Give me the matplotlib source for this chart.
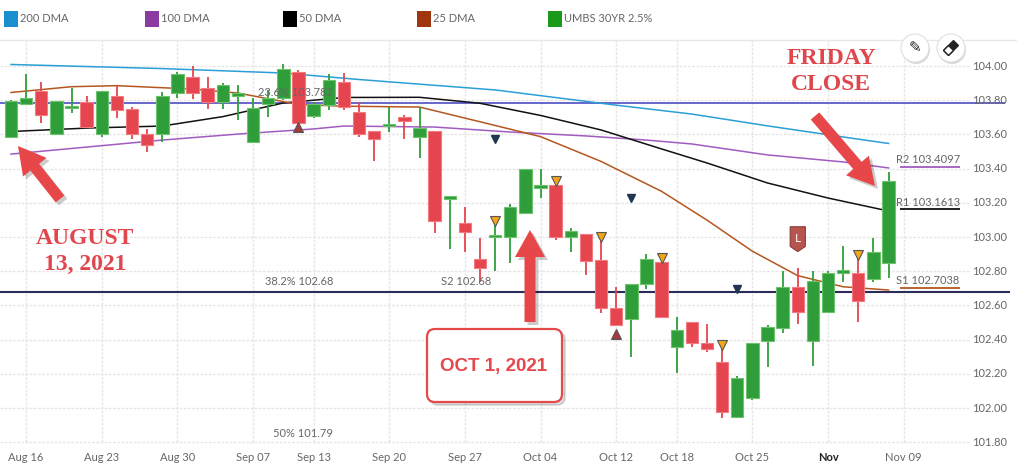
import numpy as np
import matplotlib.pyplot as plt
import matplotlib.patches as mpatches
from matplotlib.transforms import IdentityTransform

# --- data ---
tick_idx = [1, 6, 11, 16, 20, 25, 30, 35, 40, 44, 49, 54, 59]
tick_lbl = ['Aug 16', 'Aug 23', 'Aug 30', 'Sep 07', 'Sep 13', 'Sep 20', 'Sep 27',
            'Oct 04', 'Oct 12', 'Oct 18', 'Oct 25', 'Nov', 'Nov 09']

opens = [103.587, 103.776, 103.856, 103.600, 103.755, 103.791, 103.600, 103.825, 103.747, 103.602,
         103.600, 103.840, 103.934, 103.873, 103.791, 103.825, 103.557, 103.776, 103.811, 103.967,
         103.709, 103.772, 103.905, 103.729, 103.620, 103.650, 103.700, 103.587, 103.620, 103.222,
         103.084, 102.870, 102.998, 103.002, 103.142, 103.285, 103.304, 103.002, 103.018, 102.865,
         102.583, 102.519, 102.723, 102.852, 102.359, 102.505, 102.378, 102.267, 101.949, 102.060,
         102.392, 102.470, 102.709, 102.392, 102.563, 102.788, 102.788, 102.753, 102.850]
highs = [103.800, 103.953, 103.905, 103.795, 103.873, 103.825, 103.856, 103.883, 103.758, 103.632,
         103.850, 103.967, 104.000, 103.934, 103.902, 103.889, 103.811, 103.860, 104.012, 103.977,
         103.791, 103.951, 103.957, 103.791, 103.620, 103.762, 103.713, 103.762, 103.620, 103.241,
         103.174, 102.992, 103.080, 103.193, 103.398, 103.398, 103.316, 103.054, 103.018, 102.982,
         102.709, 102.725, 102.899, 102.855, 102.534, 102.505, 102.489, 102.349, 102.189, 102.378,
         102.485, 102.803, 102.817, 102.803, 102.803, 102.947, 102.876, 102.992, 103.382]
lows = [103.585, 103.776, 103.668, 103.600, 103.727, 103.636, 103.587, 103.698, 103.571, 103.495,
        103.557, 103.811, 103.807, 103.747, 103.747, 103.684, 103.557, 103.704, 103.800, 103.665,
        103.698, 103.743, 103.743, 103.587, 103.446, 103.616, 103.571, 103.460, 103.022, 102.928,
        102.914, 102.739, 102.803, 102.850, 103.142, 103.226, 102.982, 102.914, 102.778, 102.554,
        102.485, 102.300, 102.694, 102.534, 102.203, 102.359, 102.329, 101.940, 101.949, 102.047,
        102.238, 102.440, 102.489, 102.247, 102.554, 102.739, 102.505, 102.739, 102.758]
closes = [103.795, 103.811, 103.712, 103.795, 103.760, 103.645, 103.856, 103.743, 103.602, 103.538,
          103.825, 103.953, 103.840, 103.791, 103.889, 103.844, 103.756, 103.811, 103.982, 103.665,
          103.776, 103.918, 103.762, 103.600, 103.571, 103.655, 103.680, 103.639, 103.095, 103.241,
          103.031, 102.817, 103.006, 103.177, 103.398, 103.304, 103.002, 103.035, 102.861, 102.583,
          102.485, 102.725, 102.870, 102.534, 102.456, 102.378, 102.343, 101.978, 102.174, 102.378,
          102.472, 102.709, 102.563, 102.743, 102.788, 102.807, 102.627, 102.914, 103.327]

ma200_x = [0, 10, 18, 23, 32, 40, 45, 50, 55, 58]
ma200 = [104.009, 103.985, 103.959, 103.921, 103.860, 103.771, 103.719, 103.650, 103.585, 103.547]
ma100_x = [0, 5, 10, 15, 20, 22, 28, 33, 38, 42, 45, 50, 55, 58]
ma100 = [103.485, 103.526, 103.567, 103.602, 103.632, 103.649, 103.643, 103.614, 103.591, 103.567,
         103.544, 103.480, 103.439, 103.404]
ma50_x = [0, 5, 10, 14, 18, 22, 27, 31, 35, 39, 43, 46, 50, 54, 58]
ma50 = [103.617, 103.637, 103.649, 103.704, 103.784, 103.816, 103.817, 103.782, 103.711, 103.626,
        103.515, 103.433, 103.316, 103.228, 103.152]
ma25_x = [0, 4, 7, 12, 15, 19, 22, 27, 31, 35, 39, 43, 46, 49, 52, 55, 58]
ma25 = [103.845, 103.879, 103.885, 103.865, 103.842, 103.775, 103.765, 103.760, 103.674, 103.587,
        103.442, 103.267, 103.099, 102.917, 102.774, 102.709, 102.690]

orange_x = [32, 36, 39, 43, 47, 56]
orange_y = [103.094, 103.327, 103.000, 102.877, 102.368, 102.895]
navy_x = [32, 41, 48]
navy_y = [103.573, 103.228, 102.696]
redup_x = [19, 40]
redup_y = [103.643, 102.433]

fib_lbl = ['23.6% 103.782', '38.2% 102.68', '50% 101.79']
fib_val = [103.782, 102.68, 101.79]
pivot_lbl = ['R2 103.4097', 'R1 103.1613', 'S1 102.7038']
pivot_val = [103.4097, 103.1613, 102.7038]
pivot_col = ['#a05cc0', '#111111', '#b5561f']

legend_lbl = ['200 DMA', '100 DMA', '50 DMA', '25 DMA', 'UMBS 30YR 2.5%']
legend_col = ['#1a8fd0', '#8a3aa0', '#000000', '#a0360f', '#1a9a1a']

# --- figure ---
W, H = 1017, 473
fig = plt.figure(figsize=(W / 100, H / 100), dpi=100)
ax = fig.add_axes([0, 0, 1, 1])
ax.set_xlim(-0.727, 66.49)
ax.set_ylim(101.620, 104.386)
ax.axis('off')
txt_font = 'Lato'
lbl_col = '#666666'

# grid
yt = np.round(np.arange(101.8, 104.01, 0.2), 2)
ax.hlines(yt, -0.727, 63.3, color='#e6e6e6', lw=1, ls=(0, (2, 1)), zorder=0)
ax.vlines(tick_idx, 101.80, 104.15, color='#e6e6e6', lw=1, ls=(0, (2, 1)), zorder=0)
for v in yt:
    ax.text(63.5, v, f'{v:.2f}', ha='left', va='center', fontsize=8, color=lbl_col, family=txt_font)
for i, lab in zip(tick_idx, tick_lbl):
    bold = lab == 'Nov'
    ax.text(i, 101.708, lab, ha='center', va='center', fontsize=8, family=txt_font,
            color='#222222' if bold else lbl_col, fontweight='bold' if bold else 'normal')

# fib lines
ax.hlines(fib_val[0], -0.727, 65.7, color='#4d4dc4', lw=1.2, zorder=1)
ax.hlines(fib_val[1], -0.727, 66.0, color='#2b2b5a', lw=1.5, zorder=1)
for lab, v in zip(fib_lbl, fib_val):
    ax.text(21.3, v + 0.03, lab, ha='right', va='bottom', fontsize=8, color=lbl_col, family=txt_font, zorder=6)
ax.text(30.05, fib_val[1] + 0.03, 'S2 102.68', ha='center', va='bottom', fontsize=8, color=lbl_col,
        family=txt_font, zorder=6)

# moving averages
ax.plot(ma200_x, ma200, color='#2a9fd6', lw=1.1, zorder=2)
ax.plot(ma100_x, ma100, color='#a05cc0', lw=1.1, zorder=2)
ax.plot(ma50_x, ma50, color='#111111', lw=1.1, zorder=2)
ax.plot(ma25_x, ma25, color='#b5561f', lw=1.1, zorder=2)

# pivots at right
for lab, v, c in zip(pivot_lbl, pivot_val, pivot_col):
    ax.hlines(v, 58.76, 62.72, color=c, lw=1.3)
    ax.text(58.5, v + 0.01, lab, ha='left', va='bottom', fontsize=8, color=lbl_col, family=txt_font)

# candles
o = np.array(opens); c = np.array(closes); hi = np.array(highs); lo = np.array(lows)
x = np.arange(len(o))
up = c >= o
face = np.where(up, '#2f9e3a', '#e5454f')
edge = np.where(up, '#6cc36c', '#f27a80')
ax.vlines(x, lo, hi, colors=face, lw=1.3, zorder=3)
hgt = np.maximum(np.abs(c - o), 0.012)
ax.bar(x, hgt, bottom=np.minimum(o, c), width=0.82, color=face, edgecolor=edge, lw=0.8, zorder=4)

# signal markers
ax.plot(orange_x, orange_y, 'v', ms=6.5, mfc='#f2a516', mec='#555555', mew=0.8, ls='none', zorder=5)
ax.plot(navy_x, navy_y, 'v', ms=6, mfc='#1f3550', mec='#1f3550', ls='none', zorder=5)
ax.plot(redup_x, redup_y, '^', ms=6.5, mfc='#a83a3a', mec='#555555', mew=0.8, ls='none', zorder=5)
# "L" flag
lx, ly = 52, 102.99
ax.add_patch(mpatches.Polygon([[lx - 0.5, ly + 0.07], [lx + 0.5, ly + 0.07], [lx + 0.5, ly - 0.045],
                               [lx, ly - 0.075], [lx - 0.5, ly - 0.045]], closed=True,
                              fc='#b85450', ec='#8a3a36', lw=0.8, zorder=6))
ax.text(lx, ly, 'L', ha='center', va='center', color='white', fontsize=8.5, family=txt_font, zorder=7)

# --- overlay annotations in pixel space ---
ID = IdentityTransform()


def arrow(x0, y0, x1, y1):
    for dx_, dy_, col, a in [(3, -3, '#000000', 0.2), (0, 0, '#e8474a', 1.0)]:
        fa = mpatches.FancyArrow(x0 + dx_, H - y0 + dy_, x1 - x0, -(y1 - y0), width=11, head_width=30,
                                 head_length=27, length_includes_head=True, transform=ID,
                                 color=col, alpha=a, lw=0, zorder=10)
        fig.add_artist(fa)


arrow(60, 199, 18, 146)
arrow(530, 322, 530, 230)
arrow(815, 116, 875, 186)

# OCT 1 box
for dx_, dy_, fc, ec, a in [(3, -3, '#000000', '#000000', 0.12), (0, 0, 'white', '#e44a4a', 1.0)]:
    fig.add_artist(mpatches.FancyBboxPatch((427 + dx_, H - 402 + dy_), 135, 73,
                                           boxstyle='round,pad=0,rounding_size=8', transform=ID,
                                           fc=fc, ec=ec, lw=1.6, alpha=a, zorder=10))
fig.text(494 / W, 1 - 366 / H, 'OCT 1, 2021', ha='center', va='center', fontsize=13.5,
         fontweight='bold', color='#e5484d', family='Liberation Sans', zorder=11)

serif = dict(ha='center', va='center', fontsize=17, fontweight='bold', color='#e0474c',
             family='Liberation Serif', zorder=11)
fig.text(85 / W, 1 - 239 / H, 'AUGUST', **serif)
fig.text(85 / W, 1 - 264 / H, '13, 2021', **serif)
fig.text(831 / W, 1 - 58 / H, 'FRIDAY', **serif)
fig.text(831 / W, 1 - 84 / H, 'CLOSE', **serif)

# legend strip
fig.add_artist(plt.Line2D([0, W], [H - 40, H - 40], transform=ID, color='#e8e8e8', lw=1))
leg_x = [4, 145, 283, 417, 548]
for lx_, lab, col in zip(leg_x, legend_lbl, legend_col):
    fig.add_artist(mpatches.Rectangle((lx_, H - 27), 14, 16, transform=ID, fc=col, ec='none'))
    fig.text((lx_ + 16) / W, 1 - 19 / H, lab, ha='left', va='center', fontsize=8,
             color=lbl_col, family=txt_font)

# pencil / eraser buttons
for cx in (915, 951):
    fig.add_artist(mpatches.Circle((cx + 1, H - 50), 14, transform=ID, fc='#d8d8d8', ec='none', zorder=8))
    fig.add_artist(mpatches.Circle((cx, H - 48), 14, transform=ID, fc='white', ec='#e0e0e0', lw=0.8, zorder=9))
fig.text(915 / W, 1 - 48 / H, '\u270e', ha='center', va='center', fontsize=11, color='#222222',
         family='DejaVu Sans', zorder=10)
ang = np.deg2rad(45)
u = np.array([np.cos(ang), np.sin(ang)]); n = np.array([-np.sin(ang), np.cos(ang)])
ctr = np.array([951, H - 48])
full = [ctr - 7 * u - 3.5 * n, ctr + 7 * u - 3.5 * n, ctr + 7 * u + 3.5 * n, ctr - 7 * u + 3.5 * n]
half = [ctr - 7 * u - 3.5 * n, ctr - 3.5 * n, ctr + 3.5 * n, ctr - 7 * u + 3.5 * n]
fig.add_artist(mpatches.Polygon(full, closed=True, transform=ID, fc='#222222', ec='#222222', lw=1, zorder=10))
fig.add_artist(mpatches.Polygon(half, closed=True, transform=ID, fc='white', ec='#222222', lw=1, zorder=11))

fig.savefig('out.png', dpi=100)
